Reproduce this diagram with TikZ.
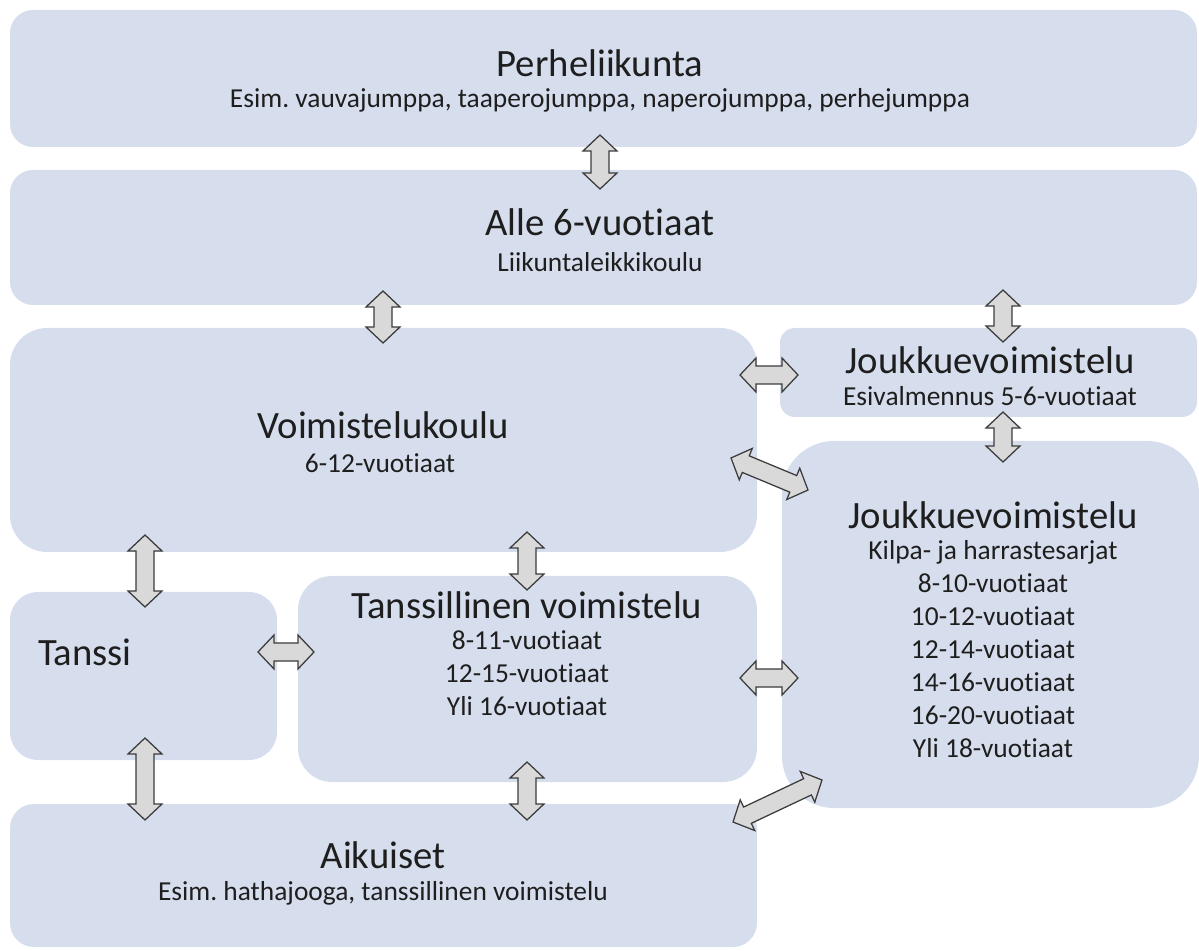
\documentclass[tikz,border=0pt]{standalone}
\usepackage{fontspec}
\setmainfont{Carlito}[Ligatures={NoCommon,NoContextual}]
\frenchspacing
\definecolor{boxblue}{RGB}{214,222,238}
\definecolor{arrfill}{RGB}{217,217,217}
\definecolor{arrline}{RGB}{60,60,60}
\definecolor{txt}{RGB}{30,30,30}
\tikzset{
  box/.style={fill=boxblue, draw=none, inner sep=0pt},
  ttl/.style={font=\fontsize{27.5}{33}\selectfont, text=txt, inner sep=0pt},
  sub/.style={font=\fontsize{19.5}{23.5}\selectfont, text=txt, align=center, inner sep=0pt},
  arr/.style={fill=arrfill, draw=arrline, line width=0.9pt, line join=miter},
  pics/dbl/.style={code={
    \draw[arr] (-#1,0) -- (-#1+16,-17) -- (-#1+16,-9) -- (#1-16,-9) -- (#1-16,-17)
      -- (#1,0) -- (#1-16,17) -- (#1-16,9) -- (-#1+16,9) -- (-#1+16,17) -- cycle;}}
}
\newcommand{\bx}[6]{\node[box, rounded corners={#6*0.025cm}, minimum width={(#4-#2)*0.025cm}, minimum height={(#5-#3)*0.025cm}] (#1) at ({(#2+#4)/2},{(#3+#5)/2}) {};}
\begin{document}
\begin{tikzpicture}[x=0.025cm, y=-0.025cm]
\useasboundingbox (0,0) rectangle (1199,951);
% boxes
\bx{perhe}{10}{10}{1197}{147}{23}
\bx{alle}{10}{170}{1197}{305}{23}
\bx{voim}{10}{328}{757}{552}{37}
\bx{jtop}{780}{328}{1197}{417}{15}
\bx{jbig}{782}{441}{1199}{808}{52}
\bx{tanssi}{10}{592}{277}{760}{28}
\bx{tv}{298}{576}{757}{782}{34}
\bx{aik}{10}{804}{757}{947}{24}
% texts
\node[ttl] (t1) at (600,63) {Perheliikunta};
\node[sub] (s1) at (600,100) {Esim. vauvajumppa, taaperojumppa, naperojumppa, perhejumppa};
\node[ttl] (t2) at (600,222) {Alle 6-vuotiaat};
\node[sub] (s2) at (600,262) {Liikuntaleikkikoulu};
\node[ttl] (t3) at (383,425) {Voimistelukoulu};
\node[sub] (s3) at (380,463) {6-12-vuotiaat};
\node[ttl] (t4) at (990,360) {Joukkuevoimistelu};
\node[sub] (s4) at (990,396) {Esivalmennus 5-6-vuotiaat};
\node[ttl] (t5) at (993,515) {Joukkuevoimistelu};
\node[sub] (s5) at (993,649) {Kilpa- ja harrastesarjat\\8-10-vuotiaat\\10-12-vuotiaat\\12-14-vuotiaat\\14-16-vuotiaat\\16-20-vuotiaat\\Yli 18-vuotiaat};
\node[ttl] (t6) at (85,652) {Tanssi};
\node[ttl] (t7) at (527,605) {Tanssillinen voimistelu};
\node[sub] (s7) at (527,673) {8-11-vuotiaat\\12-15-vuotiaat\\Yli 16-vuotiaat};
\node[ttl] (t8) at (383,855) {Aikuiset};
\node[sub] (s8) at (383,893) {Esim. hathajooga, tanssillinen voimistelu};
% arrows
\pic[rotate=90] at (600,162) {dbl=27};
\pic[rotate=90] at (383,317) {dbl=26};
\pic[rotate=90] at (1003,316) {dbl=26};
\pic at (769,375) {dbl=29};
\pic[rotate=-22.6] at (769.5,474) {dbl=41.7};
\pic[rotate=90] at (1003,437) {dbl=25};
\pic[rotate=90] at (145,571) {dbl=36};
\pic[rotate=90] at (527,561) {dbl=29};
\pic at (286,652) {dbl=28};
\pic at (769,678) {dbl=29};
\pic[rotate=90] at (145,779) {dbl=41};
\pic[rotate=90] at (527,791) {dbl=29};
\pic[rotate=25.3] at (777.5,801) {dbl=49.2};
\end{tikzpicture}
\end{document}
